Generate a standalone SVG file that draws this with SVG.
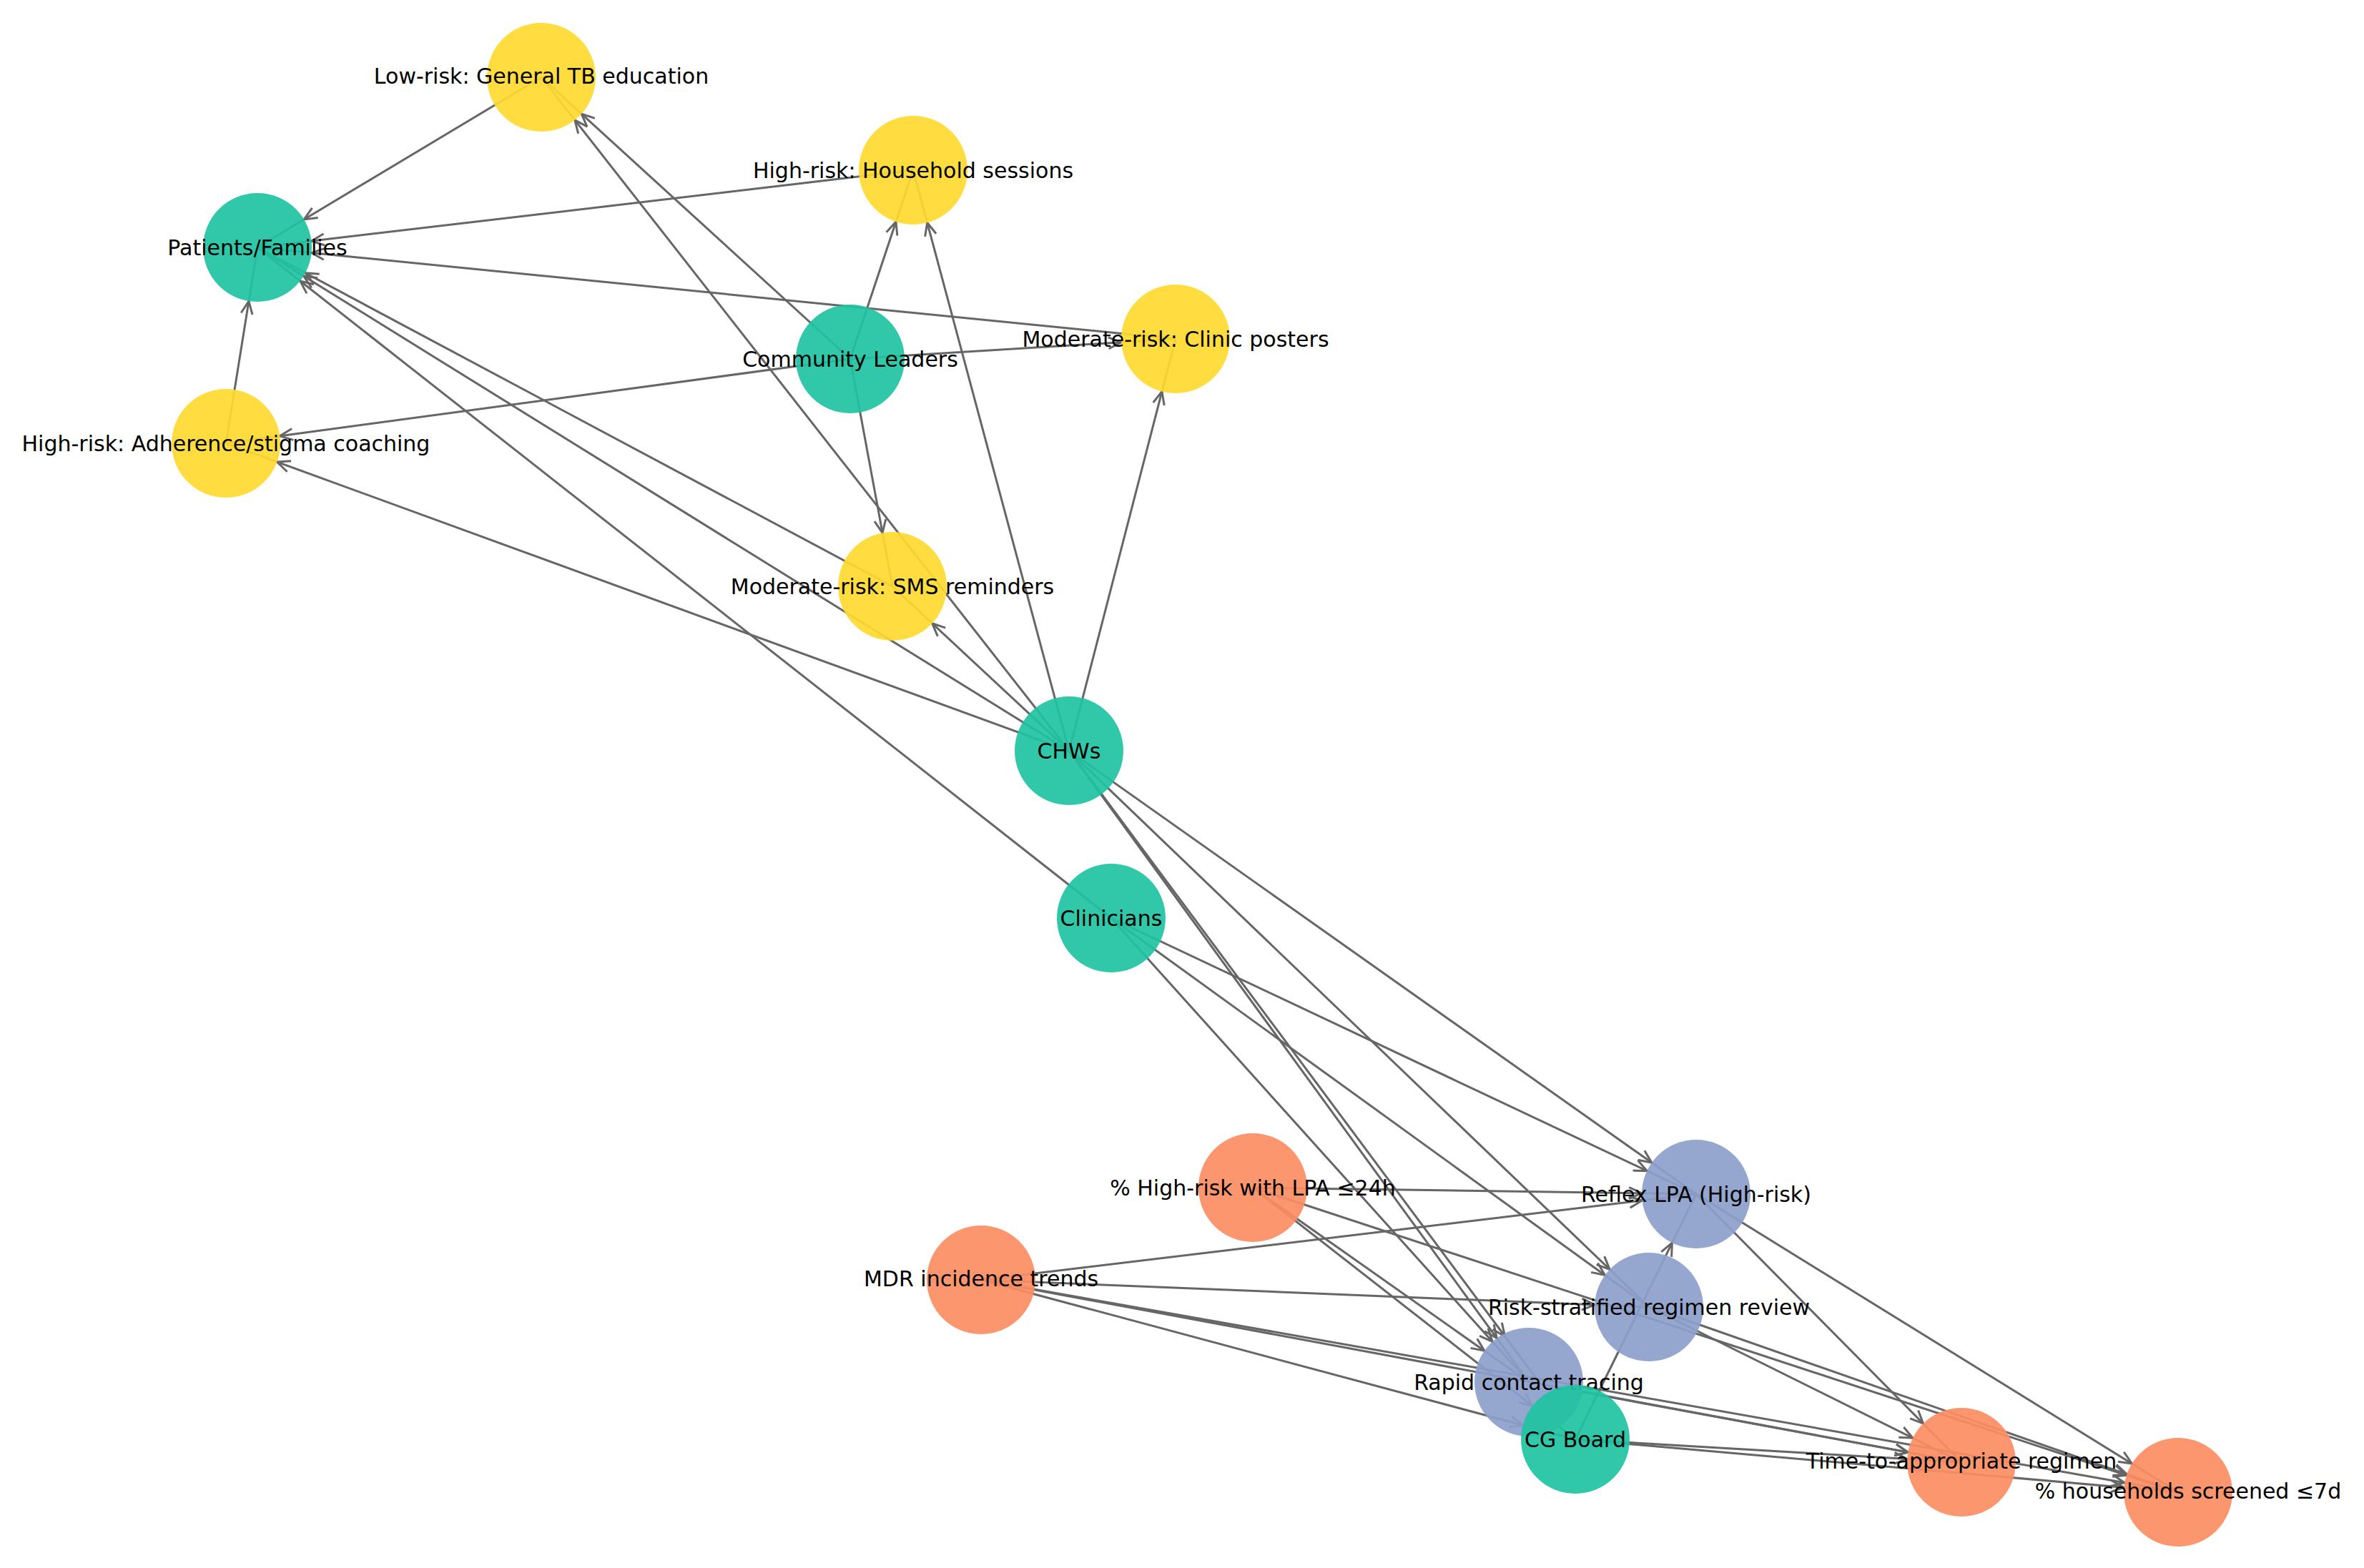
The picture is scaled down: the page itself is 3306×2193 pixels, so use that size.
<svg xmlns="http://www.w3.org/2000/svg" width="3306" height="2193" viewBox="0 0 3306 2193">
<style>
.e line{stroke:#666;stroke-width:3;marker-end:url(#a)}
circle{stroke:none;opacity:0.92}
.y circle{fill:#ffd92f}.t circle{fill:#1fc3a3}.b circle{fill:#8da0cb}.o circle{fill:#fc8d62}
text{font-family:"DejaVu Sans","Liberation Sans",sans-serif;font-size:30px;fill:#000;text-anchor:middle;dominant-baseline:central}
</style>
<defs><marker id="a" markerUnits="userSpaceOnUse" markerWidth="200" markerHeight="200" refX="76" refY="0" orient="auto" viewBox="-40 -20 200 40" overflow="visible"><path d="M-18,-8 L0,0 L-18,8" fill="none" stroke="#666" stroke-width="3"/></marker></defs>
<rect width="3306" height="2193" fill="#fff"/>
<g class="e" id="edges">
<line x1="757" y1="108" x2="360" y2="346"/>
<line x1="1277" y1="238" x2="360" y2="346"/>
<line x1="1644" y1="474" x2="360" y2="346"/>
<line x1="316" y1="620" x2="360" y2="346"/>
<line x1="1189" y1="502" x2="1277" y2="238"/>
<line x1="1189" y1="502" x2="316" y2="620"/>
<line x1="1189" y1="502" x2="1644" y2="474"/>
<line x1="1189" y1="502" x2="1248" y2="820"/>
<line x1="1189" y1="502" x2="757" y2="108"/>
<line x1="1495" y1="1050" x2="757" y2="108"/>
<line x1="1495" y1="1050" x2="1277" y2="238"/>
<line x1="1495" y1="1050" x2="1644" y2="474"/>
<line x1="1495" y1="1050" x2="1248" y2="820"/>
<line x1="1495" y1="1050" x2="360" y2="346"/>
<line x1="1248" y1="820" x2="360" y2="346"/>
<line x1="1554" y1="1284" x2="360" y2="346"/>
<line x1="1495" y1="1050" x2="316" y2="620"/>
<line x1="1495" y1="1050" x2="2372" y2="1670"/>
<line x1="1495" y1="1050" x2="2306" y2="1828"/>
<line x1="1495" y1="1050" x2="2138" y2="1933"/>
<line x1="1500" y1="1056" x2="2150" y2="1930"/>
<line x1="1554" y1="1284" x2="2372" y2="1670"/>
<line x1="1554" y1="1284" x2="2306" y2="1828"/>
<line x1="1554" y1="1284" x2="2138" y2="1933"/>
<line x1="2203" y1="2013" x2="2372" y2="1670"/>
<line x1="1752" y1="1661" x2="2372" y2="1670"/>
<line x1="1752" y1="1661" x2="2138" y2="1933"/>
<line x1="1752" y1="1661" x2="2203" y2="2013"/>
<line x1="1752" y1="1661" x2="3046" y2="2087"/>
<line x1="1372" y1="1790" x2="2372" y2="1670"/>
<line x1="1372" y1="1790" x2="2306" y2="1828"/>
<line x1="1372" y1="1790" x2="2203" y2="2013"/>
<line x1="1372" y1="1790" x2="2743" y2="2045"/>
<line x1="1372" y1="1790" x2="3046" y2="2087"/>
<line x1="2372" y1="1670" x2="2743" y2="2045"/>
<line x1="2372" y1="1670" x2="3046" y2="2087"/>
<line x1="2306" y1="1828" x2="2743" y2="2045"/>
<line x1="2306" y1="1828" x2="3046" y2="2087"/>
<line x1="2203" y1="2013" x2="2743" y2="2045"/>
<line x1="2203" y1="2013" x2="3046" y2="2087"/>
<line x1="2138" y1="1933" x2="2743" y2="2045"/>
</g>
<g id="n1" class="y"><circle cx="757" cy="108" r="76"/><text x="757" y="106">Low-risk: General TB education</text></g>
<g id="n2" class="y"><circle cx="1277" cy="238" r="76"/><text x="1277" y="238">High-risk: Household sessions</text></g>
<g id="n3" class="t"><circle cx="360" cy="346" r="76"/><text x="360" y="346">Patients/Families</text></g>
<g id="n4" class="y"><circle cx="1644" cy="474" r="76"/><text x="1644" y="474">Moderate-risk: Clinic posters</text></g>
<g id="n5" class="t"><circle cx="1189" cy="502" r="76"/><text x="1189" y="502">Community Leaders</text></g>
<g id="n6" class="y"><circle cx="316" cy="620" r="76"/><text x="316" y="620">High-risk: Adherence/stigma coaching</text></g>
<g id="n7" class="y"><circle cx="1248" cy="820" r="76"/><text x="1248" y="820">Moderate-risk: SMS reminders</text></g>
<g id="n8" class="t"><circle cx="1495" cy="1050" r="76"/><text x="1495" y="1050">CHWs</text></g>
<g id="n9" class="t"><circle cx="1554" cy="1284" r="76"/><text x="1554" y="1284">Clinicians</text></g>
<g id="n10" class="o"><circle cx="1752" cy="1661" r="76"/><text x="1752" y="1661">% High-risk with LPA ≤24h</text></g>
<g id="n11" class="b"><circle cx="2372" cy="1670" r="76"/><text x="2372" y="1670">Reflex LPA (High-risk)</text></g>
<g id="n12" class="o"><circle cx="1372" cy="1790" r="76"/><text x="1372" y="1788">MDR incidence trends</text></g>
<g id="n13" class="b"><circle cx="2306" cy="1828" r="76"/><text x="2306" y="1828">Risk-stratified regimen review</text></g>
<g id="n14" class="b"><circle cx="2138" cy="1933" r="76"/><text x="2138" y="1933">Rapid contact tracing</text></g>
<g id="n15" class="t"><circle cx="2203" cy="2013" r="76"/><text x="2203" y="2013">CG Board</text></g>
<g id="n16" class="o"><circle cx="2743" cy="2045" r="76"/><text x="2743" y="2043">Time-to-appropriate regimen</text></g>
<g id="n17" class="o"><circle cx="3046" cy="2087" r="76"/><text x="3060" y="2085">% households screened ≤7d</text></g>
</svg>
